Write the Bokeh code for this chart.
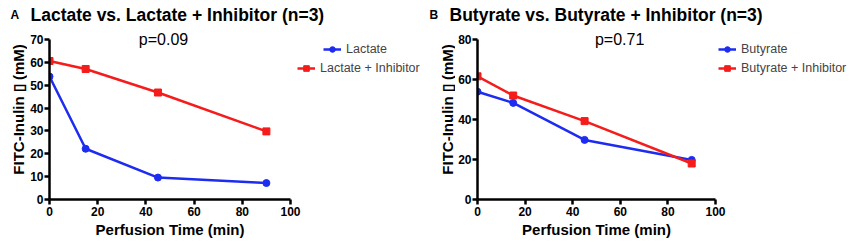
import math
from bokeh.plotting import figure
from bokeh.models import Range1d, Label, Legend, LegendItem, FixedTicker
from bokeh.layouts import row, column
from bokeh.embed import file_html
from bokeh.resources import INLINE

# ---- data ----
time_min = [0, 15, 45, 90]
lactate = [53.8, 22.2, 9.6, 7.2]
lactate_inhib = [60.6, 57.1, 46.8, 29.8]
butyrate = [53.9, 48.3, 29.8, 19.8]
butyrate_inhib = [61.6, 52.0, 39.2, 18.0]
x_ticks = [0, 20, 40, 60, 80, 100]
a_y_ticks = [0, 10, 20, 30, 40, 50, 60, 70]
b_y_ticks = [0, 20, 40, 60, 80]
x_title = "Perfusion Time (min)"
y_title = "FITC-Inulin \u25af (mM)"
BLUE = "#1c2cf0"
RED = "#f51c1c"
FONT = "Liberation Sans"

W = 851
HEAD_H = 26
MID_H = 194
FOOT_H = 242 - HEAD_H - MID_H
BOT = 21
AXIS_LEN_Y = 160       # px length of y axis
FRAME_H = MID_H - BOT


def strip(width, height):
    f = figure(width=width, height=height, output_backend="svg", toolbar_location=None,
               x_range=Range1d(0, width), y_range=Range1d(0, height),
               x_axis_type=None, y_axis_type=None,
               min_border=0, min_border_left=0, min_border_right=0,
               min_border_top=0, min_border_bottom=0)
    f.outline_line_color = None
    f.grid.visible = False
    return f


def txt(f, x, y, text, size, bold=True, angle=0.0, align="left"):
    f.add_layout(Label(x=x, y=y, text=text, text_font=FONT,
                       text_font_style="bold" if bold else "normal",
                       text_font_size=size, text_baseline="middle", text_align=align,
                       angle=angle, text_color="black"))


def mk_legend(item, loc):
    return Legend(items=[item], location=loc,
                  border_line_color=None, background_fill_alpha=0,
                  padding=0, margin=0, spacing=0,
                  label_text_font=FONT, label_text_font_size="12.5px",
                  label_standoff=5, glyph_width=18, glyph_height=14,
                  label_height=14)


def panel(width, bl, axis_len_x, ymax, yticks, s1, s2, name1, name2, pval,
          pval_x, leg_locs):
    fw = width - bl
    x_end = 100.0 * fw / axis_len_x
    y_end = ymax * FRAME_H / AXIS_LEN_Y
    p = figure(width=width, height=MID_H, output_backend="svg", toolbar_location=None,
               x_range=Range1d(0, x_end), y_range=Range1d(0, y_end),
               min_border_left=bl, min_border_right=0, min_border_top=0,
               min_border_bottom=BOT)
    p.outline_line_color = None
    p.grid.visible = False
    p.xaxis.bounds = (0, 100)
    p.yaxis.bounds = (0, ymax)
    for ax in (p.xaxis[0], p.yaxis[0]):
        ax.axis_line_width = 2.5
        ax.axis_line_color = "black"
        ax.major_tick_line_width = 2.5
        ax.major_tick_out = 5
        ax.major_tick_in = 0
        ax.minor_tick_line_color = None
        ax.major_label_text_font = FONT
        ax.major_label_text_font_style = "bold"
        ax.major_label_text_font_size = "12px"
        ax.major_label_text_color = "black"
    p.xaxis.major_label_standoff = 2
    p.yaxis.major_label_standoff = 1
    p.xaxis.ticker = FixedTicker(ticks=x_ticks)
    p.yaxis.ticker = FixedTicker(ticks=yticks)

    l1 = p.line(time_min, s1, line_color=BLUE, line_width=2.5)
    m1 = p.scatter(time_min, s1, marker="circle", size=7, fill_color=BLUE, line_color=BLUE)
    l2 = p.line(time_min, s2, line_color=RED, line_width=2.5)
    m2 = p.scatter(time_min, s2, marker="square", size=7, fill_color=RED, line_color=RED)

    p.add_layout(mk_legend(LegendItem(label=name1, renderers=[l1, m1]), leg_locs[0]))
    p.add_layout(mk_legend(LegendItem(label=name2, renderers=[l2, m2]), leg_locs[1]))

    p.add_layout(Label(x=pval_x, y=ymax, text=pval,
                       text_font=FONT, text_font_size="16px",
                       text_baseline="middle", text_align="center", text_color="black"))
    return p


# heading strip (panel letters and titles)
head = strip(W, HEAD_H)
txt(head, 10, 12, "A", "12px")
txt(head, 30, 12, "Lactate vs. Lactate + Inhibitor (n=3)", "17.5px")
txt(head, 429, 12, "B", "12px")
txt(head, 449, 12, "Butyrate vs. Butyrate + Inhibitor (n=3)", "17.5px")

# y-axis title strips
yl_y = MID_H - (119 - HEAD_H)
ya = strip(27, MID_H)
txt(ya, 18, yl_y, y_title, "15px", angle=math.pi / 2, align="center")
yb = strip(35, MID_H)
txt(yb, 26.5, yl_y, y_title, "15px", angle=math.pi / 2, align="center")

leg_y1 = FRAME_H - 30   # legend rows measured from frame bottom
leg_y2 = FRAME_H - 49
pa = panel(393, 22, 241, 70, a_y_ticks, lactate, lactate_inhib, "Lactate",
           "Lactate + Inhibitor", "p=0.09", 47.3, [(274, leg_y1), (248, leg_y2)])
pb = panel(396, 22, 238, 80, b_y_ticks, butyrate, butyrate_inhib, "Butyrate",
           "Butyrate + Inhibitor", "p=0.71", 59.7, [(241, leg_y1), (241, leg_y2)])

# x-axis title strip
foot = strip(W, FOOT_H)
fy = FOOT_H - (228.5 - HEAD_H - MID_H)
txt(foot, 169.5, fy, x_title, "15px", align="center")
txt(foot, 596, fy, x_title, "15px", align="center")

layout = column(head, row(ya, pa, yb, pb), foot)
open("out.html", "w").write(file_html(layout, INLINE))
